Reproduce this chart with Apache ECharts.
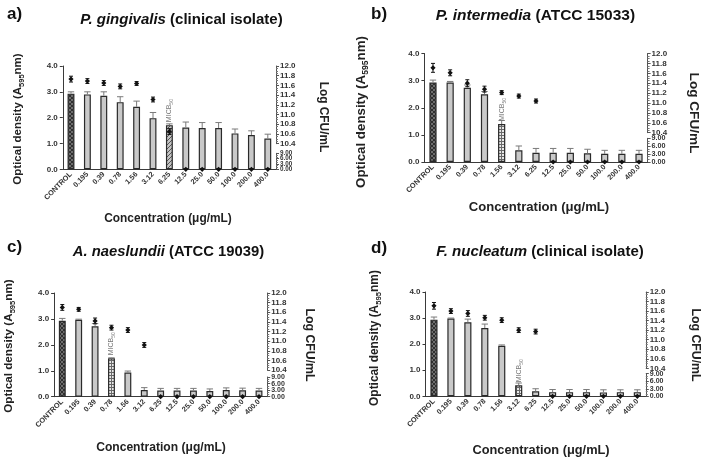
<!DOCTYPE html>
<html><head><meta charset="utf-8">
<script src="https://cdn.jsdelivr.net/npm/echarts@6/dist/echarts.min.js"></script>
<style>html,body{margin:0;padding:0;background:#fff}#c{width:708px;height:460px}</style>
</head><body><div id="c"></div>
<script>
// ---------- data ----------
const categories = ['CONTROL','0.195','0.39','0.78','1.56','3.12','6.25','12.5','25.0','50.0','100.0','200.0','400.0'];

const titlesSpecies = ['P. gingivalis','P. intermedia','A. naeslundii','F. nucleatum'];
const titlesStrain  = [' (clinical isolate)',' (ATCC 15033)',' (ATCC 19039)',' (clinical isolate)'];
const panelLetters  = ['a)','b)','c)','d)'];

const leftTicks  = [0, 1, 2, 3, 4];
const upperRange = [10.4, 12.0, 0.2];
const lowerTicks = [0, 3, 6, 9];

// Panel a
const odA     = [2.93, 2.90, 2.85, 2.60, 2.42, 1.98, 1.71, 1.62, 1.60, 1.60, 1.39, 1.33, 1.19];
const odErrA  = [0.07, 0.10, 0.15, 0.21, 0.22, 0.22, 0.05, 0.21, 0.21, 0.21, 0.17, 0.16, 0.17];
const cfuA    = [11.73, 11.69, 11.65, 11.58, 11.64, 11.31, 10.65, 0, 0, 0, 0, 0, 0];
const cfuErrA = [0.06, 0.05, 0.05, 0.05, 0.04, 0.05, 0.06, 0, 0, 0, 0, 0, 0];
const micbA = 6;
// Panel b
const odB     = [2.93, 2.93, 2.74, 2.50, 1.40, 0.43, 0.34, 0.34, 0.34, 0.32, 0.30, 0.30, 0.30];
const odErrB  = [0.09, 0.04, 0.10, 0.10, 0.13, 0.16, 0.16, 0.16, 0.16, 0.15, 0.13, 0.13, 0.13];
const cfuB    = [11.71, 11.61, 11.40, 11.28, 11.21, 11.14, 11.04, 0, 0, 0, 0, 0, 0];
const cfuErrB = [0.09, 0.06, 0.07, 0.06, 0.04, 0.04, 0.04, 0, 0, 0, 0, 0, 0];
const micbB = 4;
// Panel c
const odC     = [2.93, 2.97, 2.72, 1.48, 0.93, 0.26, 0.24, 0.24, 0.24, 0.22, 0.26, 0.25, 0.24];
const odErrC  = [0.09, 0.02, 0.10, 0.02, 0.06, 0.09, 0.08, 0.08, 0.08, 0.08, 0.08, 0.08, 0.08];
const cfuC    = [11.70, 11.66, 11.42, 11.28, 11.23, 10.92, 0, 0, 0, 0, 0, 0, 0];
const cfuErrC = [0.06, 0.04, 0.06, 0.05, 0.05, 0.05, 0, 0, 0, 0, 0, 0, 0];
const micbC = 3;
// Panel d
const odD     = [2.94, 2.98, 2.84, 2.62, 1.94, 0.42, 0.19, 0.16, 0.16, 0.16, 0.15, 0.16, 0.16];
const odErrD  = [0.10, 0.02, 0.12, 0.15, 0.03, 0.09, 0.10, 0.10, 0.10, 0.10, 0.10, 0.09, 0.09];
const cfuD    = [11.71, 11.60, 11.55, 11.46, 11.41, 11.20, 11.17, 0, 0, 0, 0, 0, 0];
const cfuErrD = [0.07, 0.05, 0.06, 0.05, 0.05, 0.05, 0.05, 0, 0, 0, 0, 0, 0];
const micbD = 5;

// ---------- styling ----------
const FONT = '"Liberation Sans", Arial, Helvetica, sans-serif';

function makePattern(kind){
  const c = document.createElement('canvas');
  const ctx = c.getContext('2d');
  if (kind === 'control'){
    c.width = 4; c.height = 4;
    ctx.fillStyle = '#303030'; ctx.fillRect(0,0,4,4);
    ctx.fillStyle = '#6e6e6e';
    for (let i=0;i<4;i++){ ctx.fillRect(i,i,1,1); ctx.fillRect(i,3-i,1,1); }
  } else if (kind === 'diag'){
    c.width = 4; c.height = 4;
    ctx.fillStyle = '#c4c4c4'; ctx.fillRect(0,0,4,4);
    ctx.fillStyle = '#555';
    for (let i=0;i<4;i++){ ctx.fillRect(i,3-i,1,1); }
  } else {
    c.width = 3; c.height = 3;
    ctx.fillStyle = '#e8e8e8'; ctx.fillRect(0,0,3,3);
    ctx.fillStyle = '#6a6a6a';
    ctx.fillRect(0,0,3,1); ctx.fillRect(0,0,1,3);
  }
  return {image: c, repeat: 'repeat'};
}

const panels = [
  {od:odA, odErr:odErrA, cfu:cfuA, cfuErr:cfuErrA, micb:micbA, pat:'diag',
   L:62.8, R:276, T:66, B:169.3, uB:143.7, lT:153.3, lowFont:6.3,
   letter:[7,14], title:[181.5,20,15], yname:[17.5,119,11.5], rname:[323,117,11.9], xname:[168,219,11.9]},
  {od:odB, odErr:odErrB, cfu:cfuB, cfuErr:cfuErrB, micb:micbB, pat:'grid',
   L:424.4, R:647.6, T:53.5, B:162, uB:132.7, lT:138.3, lowFont:7.2,
   letter:[371,14], title:[535.5,15.5,15.5], yname:[361.5,112,13.3], rname:[694,113,13.6], xname:[539,207,13.1]},
  {od:odC, odErr:odErrC, cfu:cfuC, cfuErr:cfuErrC, micb:micbC, pat:'grid',
   L:54.1, R:267.2, T:293, B:396.7, uB:370, lT:377, lowFont:7,
   letter:[7,247], title:[168.5,251.5,14.8], yname:[9,346,11.7], rname:[309,345,12.3], xname:[161,448,12.1]},
  {od:odD, odErr:odErrD, cfu:cfuD, cfuErr:cfuErrD, micb:micbD, pat:'grid',
   L:425.5, R:645.8, T:292, B:396.3, uB:368.3, lT:373.7, lowFont:7,
   letter:[371,248], title:[540,252,15], yname:[375,338,11.9], rname:[695,345,12.3], xname:[541,450,12.8]}
];

const option = {animation:false, backgroundColor:'#fff', grid:[], xAxis:[], yAxis:[], series:[], graphic:[]};
const axisColor = '#3a3a3a';
const tickLabel = {fontFamily:FONT, fontSize:8, fontWeight:'bold', color:'#333', showMinLabel:true, showMaxLabel:true};
const ctrlPat = makePattern('control');

panels.forEach((p, k) => {
  const gi = option.grid.length;
  const W = p.R - p.L;
  option.grid.push({left:p.L, top:p.T, width:W, height:p.B - p.T});
  option.grid.push({left:p.L, top:p.T, width:W, height:p.uB - p.T});
  option.grid.push({left:p.L, top:p.lT, width:W, height:p.B - p.lT});

  option.xAxis.push({type:'category', gridIndex:gi, data:categories,
    axisLine:{lineStyle:{color:axisColor, width:1}},
    axisTick:{alignWithLabel:true, length:3, lineStyle:{color:axisColor}},
    axisLabel:Object.assign({}, tickLabel, {rotate:45, fontSize:7.3, margin:4, interval:0})});
  option.xAxis.push({type:'category', gridIndex:gi+1, data:categories, show:false});
  option.xAxis.push({type:'category', gridIndex:gi+2, data:categories, show:false});

  option.yAxis.push({type:'value', gridIndex:gi, min:leftTicks[0], max:leftTicks[leftTicks.length-1], interval:1,
    axisLine:{show:true, lineStyle:{color:axisColor}}, axisTick:{show:true, length:3, lineStyle:{color:axisColor}},
    splitLine:{show:false},
    axisLabel:Object.assign({}, tickLabel, {margin:5, formatter:v => v.toFixed(1)})});
  option.yAxis.push({type:'value', gridIndex:gi+1, position:'right', min:upperRange[0], max:upperRange[1], interval:upperRange[2],
    axisLine:{show:true, lineStyle:{color:'#555'}}, axisTick:{show:true, length:3, lineStyle:{color:'#555'}},
    minorTick:{show:true, splitNumber:4, length:2, lineStyle:{color:'#777'}},
    splitLine:{show:false},
    axisLabel:Object.assign({}, tickLabel, {margin:4, formatter:v => v.toFixed(1)})});
  option.yAxis.push({type:'value', gridIndex:gi+2, position:'right', min:lowerTicks[0], max:lowerTicks[lowerTicks.length-1], interval:3,
    axisLine:{show:true, lineStyle:{color:'#555'}},
    axisTick:{show:true, length:3, lineStyle:{color:'#555'}},
    minorTick:{show:true, splitNumber:3, length:2, lineStyle:{color:'#777'}},
    splitLine:{show:false},
    axisLabel:{show:false}});

  // lower-segment tick labels placed through the lower axis scale
  option.series.push({type:'custom', xAxisIndex:gi+2, yAxisIndex:gi+2, z:6, clip:false, silent:true,
    data:lowerTicks.map(v => [0, v]),
    renderItem:(params, api) => {
      const v = api.value(1);
      const y = api.coord([0, v])[1];
      const cs = params.coordSys;
      return {type:'text', x:cs.x + cs.width + 4, y:y,
        style:{text:v.toFixed(2), fontFamily:FONT, fontSize:p.lowFont, fontWeight:'bold', fill:'#333', align:'left', verticalAlign:'middle'}};
    }});

  const micbPat = makePattern(p.pat);
  // bars
  option.series.push({type:'bar', xAxisIndex:gi, yAxisIndex:gi, barWidth:'42%', z:2,
    itemStyle:{color:'#c9c9c9', borderColor:'#2a2a2a', borderWidth:1.2},
    data:p.od.map((v,i) => {
      const item = {value:v};
      if (i === 0) item.itemStyle = {color:ctrlPat};
      if (i === p.micb) {
        item.itemStyle = {color:micbPat};
        item.label = {show:true, position:'top', rotate:90, align:'left', verticalAlign:'middle', distance:3,
          formatter:'{m|MICB}{s|50}',
          rich:{m:{fontFamily:FONT, fontSize:7, color:'#777', lineHeight:10},
                s:{fontFamily:FONT, fontSize:5, color:'#777', lineHeight:5, verticalAlign:'bottom'}}};
      }
      return item;
    })});
  // bar error bars (upper)
  option.series.push({type:'custom', xAxisIndex:gi, yAxisIndex:gi, z:3,
    data:p.od.map((v,i) => [i, v, p.odErr[i]]),
    renderItem:(params, api) => {
      const i = api.value(0), v = api.value(1), e = api.value(2);
      const a = api.coord([i, v]), b = api.coord([i, v + e]);
      const hw = 3.2;
      return {type:'group', children:[
        {type:'line', shape:{x1:a[0], y1:a[1], x2:b[0], y2:b[1]}, style:{stroke:'#7a7a7a', lineWidth:1}},
        {type:'line', shape:{x1:b[0]-hw, y1:b[1], x2:b[0]+hw, y2:b[1]}, style:{stroke:'#7a7a7a', lineWidth:1}}
      ]};
    }});
  // CFU dots
  const marker = (x, y, e1, e2) => {
    const r = 2.6, hw = 2;
    const ch = [];
    if (e1 !== null){
      ch.push({type:'line', shape:{x1:x, y1:e1, x2:x, y2:e2}, style:{stroke:'#111', lineWidth:1}});
      ch.push({type:'line', shape:{x1:x-hw, y1:e1, x2:x+hw, y2:e1}, style:{stroke:'#111', lineWidth:1}});
      ch.push({type:'line', shape:{x1:x-hw, y1:e2, x2:x+hw, y2:e2}, style:{stroke:'#111', lineWidth:1}});
    }
    ch.push({type:'polygon', shape:{points:[[x,y-r],[x+r,y],[x,y+r],[x-r,y]]}, style:{fill:'#111'}});
    return {type:'group', children:ch};
  };
  const upperData = [], lowerData = [];
  p.cfu.forEach((v,i) => { if (v >= upperRange[0]) upperData.push([i, v, p.cfuErr[i]]); else lowerData.push([i, v]); });
  option.series.push({type:'custom', xAxisIndex:gi+1, yAxisIndex:gi+1, z:5, clip:false, data:upperData,
    renderItem:(params, api) => {
      const i = api.value(0), v = api.value(1), e = api.value(2);
      const c = api.coord([i, v]);
      return marker(c[0], c[1], api.coord([i, v + e])[1], api.coord([i, v - e])[1]);
    }});
  option.series.push({type:'custom', xAxisIndex:gi+2, yAxisIndex:gi+2, z:5, clip:false, data:lowerData,
    renderItem:(params, api) => {
      const c = api.coord([api.value(0), api.value(1)]);
      return marker(c[0], c[1], null, null);
    }});

  // texts
  option.graphic.push({type:'text', x:p.letter[0], y:p.letter[1],
    style:{text:panelLetters[k], fontFamily:FONT, fontSize:17, fontWeight:'bold', fill:'#111', align:'left', verticalAlign:'middle'}});
  option.graphic.push({type:'text', x:p.title[0], y:p.title[1],
    style:{text:'{i|' + titlesSpecies[k] + '}{n|' + titlesStrain[k] + '}', align:'center', verticalAlign:'middle',
      rich:{i:{fontFamily:FONT, fontSize:p.title[2], fontWeight:'bold', fontStyle:'italic', fill:'#111'},
            n:{fontFamily:FONT, fontSize:p.title[2], fontWeight:'bold', fill:'#111'}}}});
  const ys = p.yname[2];
  option.graphic.push({type:'text', x:p.yname[0], y:p.yname[1], rotation:Math.PI/2,
    style:{text:'{a|Optical density (A}{s|595}{a|nm)}', align:'center', verticalAlign:'middle',
      rich:{a:{fontFamily:FONT, fontSize:ys, fontWeight:'bold', fill:'#222', lineHeight:ys*1.3},
            s:{fontFamily:FONT, fontSize:ys*0.65, fontWeight:'bold', fill:'#222', lineHeight:ys*0.65, verticalAlign:'bottom'}}}});
  option.graphic.push({type:'text', x:p.rname[0], y:p.rname[1], rotation:-Math.PI/2,
    style:{text:'Log CFU/mL', fontFamily:FONT, fontSize:p.rname[2], fontWeight:'bold', fill:'#222', align:'center', verticalAlign:'middle'}});
  option.graphic.push({type:'text', x:p.xname[0], y:p.xname[1],
    style:{text:'Concentration (\u03bcg/mL)', fontFamily:FONT, fontSize:p.xname[2], fontWeight:'bold', fill:'#222', align:'center', verticalAlign:'middle'}});
});

const chart = echarts.init(document.getElementById('c'), null, {renderer:'canvas'});
chart.setOption(option);
</script>
</body></html>
